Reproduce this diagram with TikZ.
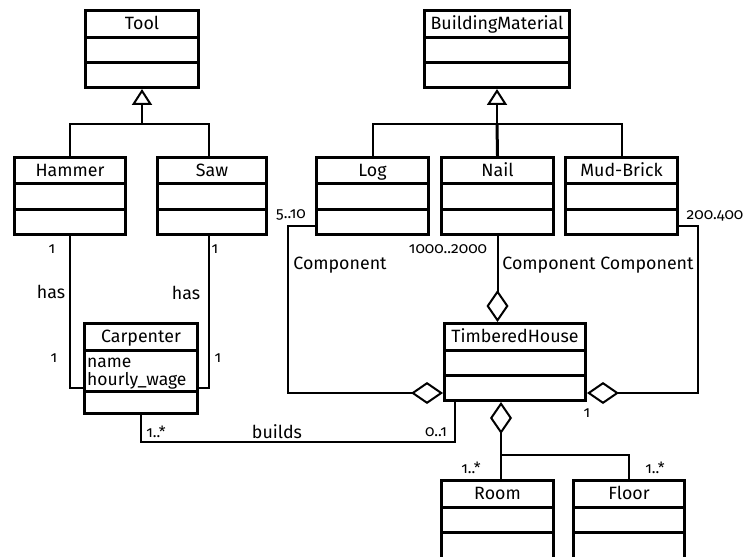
\documentclass[tikz,border=0pt]{standalone}
\usepackage{fontspec}
\setmainfont{Fira Sans}[Numbers=OldStyle]
\usetikzlibrary{arrows.meta,calc}
\tikzset{
  cls/.style={draw, line width=3pt, inner sep=0pt, anchor=north west, fill=white},
  divline/.style={line width=3pt},
  ttl/.style={font=\fontsize{17.8}{18}\selectfont, inner sep=0pt, anchor=base},
  conn/.style={line width=2pt},
  lbl/.style={font=\fontsize{17.8}{18}\selectfont, inner sep=0pt},
  attr/.style={font=\fontsize{17.5}{18}\selectfont, inner sep=0pt, anchor=base west},
  mult/.style={font=\fontsize{15.5}{16}\selectfont, inner sep=0pt},
  gen/.style={conn, -{Triangle[open, length=16pt, width=20pt, line width=2pt]}},
  agg/.style={conn, {Diamond[open, length=32pt, width=22pt, line width=2pt]}-},
}
% name, x, y (outer top-left), inner width, inner height, divider 1, divider 2, title
\newcommand\umlcls[8]{%
  \node[cls, minimum width=#4pt, minimum height=#5pt] (#1) at (#2,#3) {};
  \node[ttl] (#1-t) at ([yshift=-20.5pt]#1.north) {#8};
  \draw[divline] ([yshift=-#6pt]#1.north west) -- ([yshift=-#6pt]#1.north east);
  \draw[divline] ([yshift=-#7pt]#1.north west) -- ([yshift=-#7pt]#1.north east);
}
\begin{document}
\begin{tikzpicture}[x=1pt, y=-1pt]
\clip (0,0) rectangle (751,556);
\fill[white] (0,0) rectangle (751,556);

% classes
\umlcls{tool}{84}{9}{113}{77}{29}{54}{Tool}
\umlcls{bm}{423}{9}{145}{77}{29}{54}{BuildingMaterial}
\umlcls{hammer}{13}{156}{111}{77}{27}{53}{Hammer}
\umlcls{saw}{156}{156}{109}{77}{27}{53}{Saw}
\umlcls{log}{315}{156}{112}{77}{27}{53}{Log}
\umlcls{nail}{440}{156}{112}{77}{27}{53}{Nail}
\umlcls{mud}{564}{156}{112}{77}{27}{53}{Mud-Brick}
\umlcls{carp}{83}{322}{113}{90}{28}{69}{Carpenter}
\umlcls{th}{443}{322}{141}{77}{28}{53}{TimberedHouse}
\umlcls{room}{440}{479}{112}{95}{28}{53}{Room}
\umlcls{floor}{572}{479}{111}{95}{28}{53}{Floor}

\node[attr] (carp-a1) at ([xshift=4pt,yshift=-45pt]carp.north west) {name};
\node[attr] (carp-a2) at ([xshift=4pt,yshift=-63pt]carp.north west) {hourly\_wage};

% generalisation: tools
\coordinate (tj) at ([yshift=-35pt]tool.south);
\coordinate (sawtop) at ([xshift=-3pt]saw.north);
\draw[conn] (hammer.north) |- (tj) -| (sawtop);
\draw[gen] (tj) -- (tool.south);

% generalisation: building materials
\coordinate (bj) at ([yshift=-35pt]bm.south);
\draw[conn] (log.north) |- (bj) -| (mud.north);
\draw[conn, line width=3pt] (nail.north) -- (bj);
\draw[gen] (bj) -- (bm.south);

% has associations
\coordinate (sawbot) at ([xshift=-3pt]saw.south);
\coordinate (cL) at ([yshift=-19.5pt]carp.west);
\coordinate (cR) at ([yshift=-19.5pt]carp.east);
\draw[conn] (hammer.south) |- (cL);
\draw[conn] (sawbot) |- (cR);

% builds
\coordinate (thb) at ([xshift=12pt]th.south west);
\draw[conn] (thb) |- ([yshift=-27pt]carp.south) -- (carp.south);

% aggregations of materials
\coordinate (logport) at ([yshift=-30pt]log.west);
\coordinate (thL) at ([yshift=-31pt]th.west);
\draw[agg] (thL) -| ([xshift=-27pt]logport) -- (logport);
\coordinate (mudport) at ([yshift=-30pt]mud.east);
\coordinate (thR) at ([yshift=-31pt]th.east);
\draw[agg] (thR) -| ([xshift=19pt]mudport) -- (mudport);
\draw[agg] (nail.south |- th.north) -- (nail.south);

% aggregation of rooms and floors
\coordinate (thB) at ([xshift=-14pt]th.south);
\coordinate (jn) at ([yshift=-53pt]thB);
\draw[agg] (thB) -- (jn) -| (floor.north);
\draw[conn] (jn) -- (jn |- room.north);

% labels
\node[mult] (m510) at (291,215) {5..10};
\node[lbl] (comp1) at (340,265) {Component};
\node[mult] (m1000) at (448,249) {1000..2000};
\node[lbl] (comp23) at (598,265) {Component Component};
\node[mult] (m200) at (715,216) {200.400};
\node[lbl] (has1) at (51,292) {has};
\node[lbl] (has2) at (186,293) {has};
\node[mult] (mh1) at (52,249) {1};
\node[mult] (ms1) at (215,249) {1};
\node[mult] (mh2) at (54,358) {1};
\node[mult] (ms2) at (218,358) {1};
\node[mult] (mc) at (156,432) {1..*};
\node[lbl] (builds) at (277,432) {builds};
\node[mult] (mt) at (436,432) {0..1};
\node[mult] (mth) at (587,413) {1};
\node[mult] (mr) at (471,468) {1..*};
\node[mult] (mf) at (655,468) {1..*};
\end{tikzpicture}
\end{document}
